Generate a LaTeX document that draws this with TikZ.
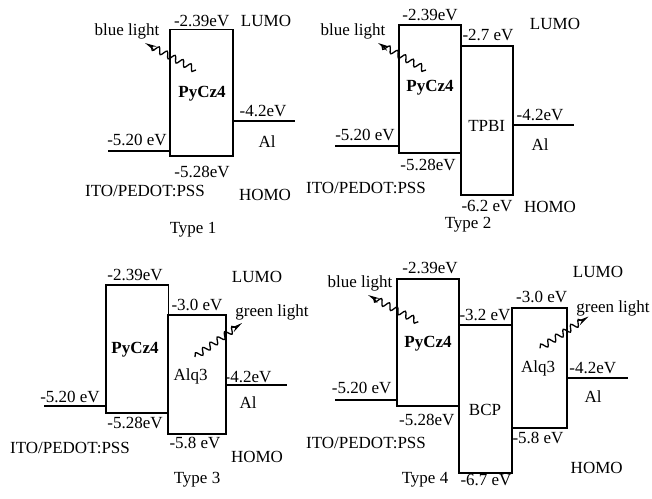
\documentclass[tikz,border=0pt]{standalone}
\usepackage{fontspec}
\setmainfont{Liberation Serif}
\usetikzlibrary{arrows.meta,decorations.pathmorphing}
\begin{document}
\begin{tikzpicture}[x=1pt,y=-1pt,
  box/.style={draw, line width=1.7pt, inner sep=0pt, outer sep=0pt},
  lvl/.style={line width=1.7pt},
  lbl/.style={inner sep=0pt, font=\fontsize{17}{20}\selectfont},
  mat/.style={lbl, font=\fontsize{17}{20}\selectfont\bfseries},
  wave/.style={line width=1.3pt, decorate,
    decoration={snake, segment length=9pt, amplitude=3.2pt, post length=4pt},
    -{Stealth[length=12pt,width=5pt]}}]
\useasboundingbox (0,0) rectangle (652,498);

% ---------------- Type 1 ----------------
\node[box, minimum width=62.7pt, minimum height=126.7pt] (p1) at (201.3,92.7) {};
\coordinate (ito1) at (108,151);
\coordinate (al1) at (295,120.7);
\draw[lvl] (ito1) -- (ito1 -| p1.west);
\draw[lvl] (al1 -| p1.east) -- (al1);
\coordinate (w1a) at (196,70);
\coordinate (w1b) at (145,43);
\draw[wave] (w1a) -- (w1b);
\node[lbl] (t1a) at (201.7,20.5) {-2.39eV};
\node[lbl] (t1b) at (266,21) {LUMO};
\node[lbl] (t1c) at (127,31.5) {blue light};
\node[mat] (t1d) at (202,94) {PyCz4};
\node[lbl] (t1e) at (263,110.5) {-4.2eV};
\node[lbl] (t1f) at (137,140) {-5.20 eV};
\node[lbl] (t1g) at (267,141.5) {Al};
\node[lbl] (t1h) at (202,171.5) {-5.28eV};
\node[lbl] (t1i) at (145,190.5) {ITO/PEDOT:PSS};
\node[lbl] (t1j) at (265,195) {HOMO};
\node[lbl] (t1k) at (193,230) {Type 1};

% ---------------- Type 2 ----------------
\node[box, minimum width=62pt, minimum height=127.7pt] (p2) at (430,88.8) {};
\node[box, minimum width=51.7pt, minimum height=149pt, anchor=north west] (tp2) at (461,46) {};
\coordinate (ito2) at (335,146);
\coordinate (al2) at (574,125);
\draw[lvl] (ito2) -- (ito2 -| p2.west);
\draw[lvl] (al2 -| tp2.east) -- (al2);
\coordinate (w2a) at (426,70);
\coordinate (w2b) at (378,43);
\draw[wave] (w2a) -- (w2b);
\node[lbl] (t2a) at (430,15) {-2.39eV};
\node[lbl] (t2b) at (555,24) {LUMO};
\node[lbl] (t2c) at (353,31.5) {blue light};
\node[lbl] (t2d) at (488,35) {-2.7 eV};
\node[mat] (t2e) at (430,88) {PyCz4};
\node[lbl] (t2f) at (486.7,126) {TPBI};
\node[lbl] (t2g) at (540,115) {-4.2eV};
\node[lbl] (t2h) at (365,135) {-5.20 eV};
\node[lbl] (t2i) at (540,145) {Al};
\node[lbl] (t2j) at (428,165) {-5.28eV};
\node[lbl] (t2k) at (366,188) {ITO/PEDOT:PSS};
\node[lbl] (t2l) at (487,206) {-6.2 eV};
\node[lbl] (t2m) at (550,207) {HOMO};
\node[lbl] (t2n) at (468,224.5) {Type 2};

% ---------------- Type 3 ----------------
\node[box, minimum width=62.3pt, minimum height=127.7pt] (p3) at (137.2,348.8) {};
\node[box, minimum width=57.4pt, minimum height=119pt, anchor=north west] (a3) at (168.3,315) {};
\coordinate (ito3) at (44,406);
\coordinate (al3) at (286.7,385);
\draw[lvl] (ito3) -- (ito3 -| p3.west);
\draw[lvl] (al3 -| a3.east) -- (al3);
\coordinate (w3a) at (195,357);
\coordinate (w3b) at (242,323);
\draw[wave] (w3a) -- (w3b);
\node[lbl] (t3a) at (135,275) {-2.39eV};
\node[lbl] (t3b) at (257,277.3) {LUMO};
\node[lbl] (t3c) at (197,305) {-3.0 eV};
\node[lbl] (t3d) at (272,312.5) {green light};
\node[mat] (t3e) at (135,350) {PyCz4};
\node[lbl] (t3f) at (190.7,376.7) {Alq3};
\node[lbl] (t3g) at (248,376.7) {-4.2eV};
\node[lbl] (t3h) at (70,396.7) {-5.20 eV};
\node[lbl] (t3i) at (248,403) {Al};
\node[lbl] (t3j) at (135,423) {-5.28eV};
\node[lbl] (t3k) at (70,448) {ITO/PEDOT:PSS};
\node[lbl] (t3l) at (195,443) {-5.8 eV};
\node[lbl] (t3m) at (257,456.7) {HOMO};
\node[lbl] (t3n) at (197,480) {Type 3};

% ---------------- Type 4 ----------------
\node[box, minimum width=62pt, minimum height=126.7pt] (p4) at (428.3,342.4) {};
\node[box, minimum width=52.4pt, minimum height=148.3pt, anchor=north west] (b4) at (459.3,325) {};
\node[box, minimum width=55.6pt, minimum height=119.4pt, anchor=north west] (a4) at (511.7,308.3) {};
\coordinate (ito4) at (335,400);
\coordinate (al4) at (628.3,378.3);
\draw[lvl] (ito4) -- (ito4 -| p4.west);
\draw[lvl] (al4 -| a4.east) -- (al4);
\coordinate (w4a) at (418.3,321.7);
\coordinate (w4b) at (368,295);
\draw[wave] (w4a) -- (w4b);
\coordinate (w4c) at (540,348.3);
\coordinate (w4d) at (588.5,316.5);
\draw[wave] (w4c) -- (w4d);
\node[lbl] (t4a) at (430,268.3) {-2.39eV};
\node[lbl] (t4b) at (598,271.7) {LUMO};
\node[lbl] (t4c) at (360,283.3) {blue light};
\node[lbl] (t4d) at (541.7,296.7) {-3.0 eV};
\node[lbl] (t4e) at (485,315) {-3.2 eV};
\node[lbl] (t4f) at (613,308.3) {green light};
\node[mat] (t4g) at (428,343.3) {PyCz4};
\node[lbl] (t4h) at (538,368) {Alq3};
\node[lbl] (t4i) at (592.7,368) {-4.2eV};
\node[lbl] (t4j) at (361.7,388) {-5.20 eV};
\node[lbl] (t4k) at (593,396.7) {Al};
\node[lbl] (t4l) at (485,410) {BCP};
\node[lbl] (t4m) at (426.7,420) {-5.28eV};
\node[lbl] (t4n) at (366,443) {ITO/PEDOT:PSS};
\node[lbl] (t4o) at (538,438) {-5.8 eV};
\node[lbl] (t4p) at (596.7,468) {HOMO};
\node[lbl] (t4q) at (425,480) {Type 4};
\node[lbl] (t4r) at (486,480) {-6.7 eV};
\end{tikzpicture}
\end{document}
